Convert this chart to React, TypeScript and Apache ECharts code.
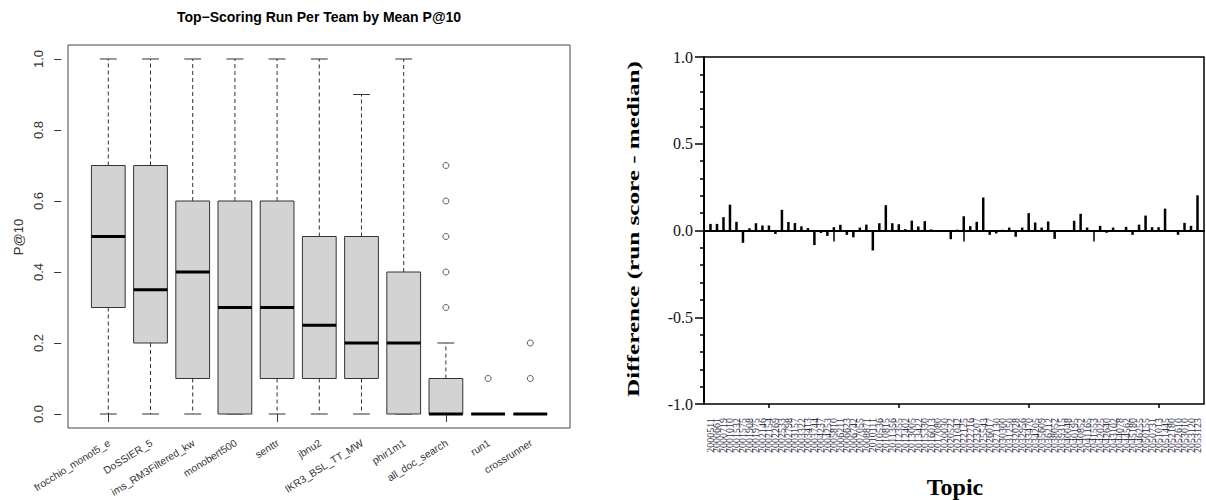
import React, { useEffect, useRef } from "react";
import * as echarts from "echarts";

// ---------- Left panel: box plot data ----------
const teams = [
  "frocchio_monot5_e",
  "DoSSIER_5",
  "ims_RM3Filtered_kw",
  "monobert500",
  "senttr",
  "jbnu2",
  "IKR3_BSL_TT_MW",
  "phir1m1",
  "all_doc_search",
  "run1",
  "crossrunner",
];
const boxMin = [0, 0, 0, 0, 0, 0, 0, 0, 0, 0, 0];
const boxQ1 = [0.3, 0.2, 0.1, 0, 0.1, 0.1, 0.1, 0, 0, 0, 0];
const boxMedian = [0.5, 0.35, 0.4, 0.3, 0.3, 0.25, 0.2, 0.2, 0, 0, 0];
const boxQ3 = [0.7, 0.7, 0.6, 0.6, 0.6, 0.5, 0.5, 0.4, 0.1, 0, 0];
const boxMax = [1, 1, 1, 1, 1, 1, 0.9, 1, 0.2, 0, 0];
const outlierTeams = ["all_doc_search", "all_doc_search", "all_doc_search", "all_doc_search", "all_doc_search", "run1", "crossrunner", "crossrunner"];
const outlierValues = [0.3, 0.4, 0.5, 0.6, 0.7, 0.1, 0.1, 0.2];

// ---------- Right panel: per-topic difference ----------
const topics = [
  "2000511", "2000661", "2000719", "2001010", "2001532", "2001575", "2001908", "2001975", "2002146", "2002154",
  "2002269", "2002533", "2002798", "2003157", "2003322", "2003413", "2003744", "2004237", "2004253", "2005810",
  "2006211", "2006623", "2006742", "2007055", "2008871", "2010111", "2010536", "2010815", "2011356", "2012355",
  "2012402", "2013005", "2013422", "2015330", "2016013", "2017080", "2020030", "2020522", "2021042", "2022125",
  "2022716", "2023207", "2025543", "2026017", "2027130", "2030300", "2031250", "2032028", "2032956", "2033470",
  "2034205", "2035609", "2036212", "2038052", "2039315", "2040048", "2040195", "2040852", "2041165", "2041553",
  "2042025", "2042640", "2043102", "2044078", "2044562", "2045180", "2046255", "2050155", "2050731", "2051013",
  "2051445", "2052180", "2052610", "2053010", "2053120", "2053123",
];
const diffs = [
  0.038, 0.038, 0.077, 0.149, 0.05, -0.071, 0.013, 0.042, 0.029, 0.029,
  -0.02, 0.119, 0.049, 0.043, 0.024, 0.014, -0.084, -0.014, -0.031, 0.019,
  0.033, -0.025, -0.039, 0.017, 0.034, -0.115, 0.042, 0.146, 0.042, 0.036,
  0.008, 0.057, 0.023, 0.054, 0.006, -0.008, 0, -0.05, 0.005, 0.082,
  0.025, 0.05, 0.19, -0.025, -0.017, 0.004, 0.017, -0.036, 0.017, 0.1,
  0.046, 0.017, 0.052, -0.048, 0, 0, 0.056, 0.096, 0.017, 0,
  0.027, -0.013, 0.017, 0, 0.021, -0.025, 0.034, 0.086, 0.019, 0.019,
  0.126, -0.005, -0.025, 0.044, 0.027, 0.203,
];
const leftTicks = [0, 0.2, 0.4, 0.6, 0.8, 1.0];
const rightTicks = [-1, -0.5, 0, 0.5, 1];

export default function App() {
  const ref = useRef<HTMLDivElement>(null);

  useEffect(() => {
    document.body.style.margin = "0";
    if (!ref.current) return;
    const chart = echarts.init(ref.current, null, { renderer: "svg" });

    const boxData = teams.map((_, i) => [i, boxMin[i], boxQ1[i], boxMedian[i], boxQ3[i], boxMax[i]]);
    const labelData = teams.map((_, i) => [i, 0]);
    const outlierData = outlierTeams.map((t, i) => [t, outlierValues[i]]);
    const rightCats = ["", ...topics, ""];
    const rightVals: (number | string)[] = ["-", ...diffs, "-"];

    const serifFont = "Liberation Serif";
    const sansFont = "Liberation Sans";
    const xLabelRotate = 32;

    chart.setOption({
      animation: false,
      backgroundColor: "#fff",
      grid: [
        { left: 68, top: 45, width: 502, height: 383, show: true, borderColor: "#444", borderWidth: 1, backgroundColor: "transparent", outerBoundsMode: "none" },
        { left: 87.2, top: 59, width: 464.2, height: 355, outerBoundsMode: "none" },
        { left: 704, top: 57, width: 500, height: 347, show: true, borderColor: "#000", borderWidth: 1.5, backgroundColor: "transparent", outerBoundsMode: "none" },
      ],
      xAxis: [
        { gridIndex: 0, type: "value", show: false },
        {
          gridIndex: 1,
          type: "category",
          data: teams,
          boundaryGap: true,
          offset: 14,
          axisLine: { show: false },
          axisTick: { show: true, alignWithLabel: true, length: 8, lineStyle: { color: "#333" } },
          axisLabel: { show: false },
          splitLine: { show: false },
        },
        {
          gridIndex: 2,
          type: "category",
          data: rightCats,
          boundaryGap: false,
          position: "bottom",
          axisLine: { show: true, lineStyle: { color: "#000", width: 2 } },
          axisTick: { show: true, interval: (i: number) => i % 20 === 0, length: 11, lineStyle: { color: "#000", width: 1.5 } },
          axisLabel: { interval: 0, rotate: 90, fontSize: 10, color: "#33334d", margin: 14, fontFamily: serifFont },
          splitLine: { show: false },
        },
        {
          gridIndex: 2,
          type: "category",
          data: rightCats,
          boundaryGap: false,
          position: "bottom",
          axisLine: { show: false },
          axisTick: { show: true, interval: (i: number) => i % 10 === 0 && i % 20 !== 0, length: 4, lineStyle: { color: "#000", width: 1.5 } },
          axisLabel: { show: false },
          splitLine: { show: false },
        },
      ],
      yAxis: [
        { gridIndex: 0, type: "value", show: false },
        {
          gridIndex: 1,
          type: "value",
          min: leftTicks[0],
          max: leftTicks[leftTicks.length - 1],
          interval: 0.2,
          offset: 26,
          axisLine: { show: false },
          axisTick: { show: true, length: 7, lineStyle: { color: "#333" } },
          axisLabel: { rotate: 90, fontSize: 13, color: "#333", margin: 16, fontFamily: sansFont, formatter: (v: number) => v.toFixed(1) },
          splitLine: { show: false },
        },
        {
          gridIndex: 2,
          type: "value",
          min: rightTicks[0],
          max: rightTicks[rightTicks.length - 1],
          interval: 0.5,
          axisLine: { show: true, lineStyle: { color: "#000", width: 2 } },
          axisTick: { show: true, length: 9, lineStyle: { color: "#000", width: 1.5 } },
          minorTick: { show: true, splitNumber: 5, length: 4, lineStyle: { color: "#000", width: 1.5 } },
          axisLabel: { fontSize: 16, color: "#111", margin: 11, fontFamily: serifFont, formatter: (v: number) => v.toFixed(1) },
          splitLine: { show: false },
          minorSplitLine: { show: false },
        },
      ],
      series: [
        {
          type: "custom",
          xAxisIndex: 1,
          yAxisIndex: 1,
          data: boxData,
          encode: { x: 0, y: [1, 2, 3, 4, 5] },
          renderItem: (params: any, api: any) => {
            const idx = api.value(0);
            const pMin = api.coord([idx, api.value(1)]);
            const pQ1 = api.coord([idx, api.value(2)]);
            const pMed = api.coord([idx, api.value(3)]);
            const pQ3 = api.coord([idx, api.value(4)]);
            const pMax = api.coord([idx, api.value(5)]);
            const band = api.size([1, 0])[0];
            const hw = band * 0.4;
            const cw = band * 0.2;
            const cx = pMed[0];
            const stroke = "#333";
            return {
              type: "group",
              children: [
                { type: "line", shape: { x1: cx, y1: pQ3[1], x2: cx, y2: pMax[1] }, style: { stroke, lineWidth: 1, lineDash: [4, 3] } },
                { type: "line", shape: { x1: cx, y1: pQ1[1], x2: cx, y2: pMin[1] }, style: { stroke, lineWidth: 1, lineDash: [4, 3] } },
                { type: "line", shape: { x1: cx - cw, y1: pMax[1], x2: cx + cw, y2: pMax[1] }, style: { stroke, lineWidth: 1 } },
                { type: "line", shape: { x1: cx - cw, y1: pMin[1], x2: cx + cw, y2: pMin[1] }, style: { stroke, lineWidth: 1 } },
                { type: "rect", shape: { x: cx - hw, y: pQ3[1], width: hw * 2, height: pQ1[1] - pQ3[1] }, style: { fill: "#d3d3d3", stroke, lineWidth: 1 } },
                { type: "line", shape: { x1: cx - hw, y1: pMed[1], x2: cx + hw, y2: pMed[1] }, style: { stroke: "#000", lineWidth: 3 } },
              ],
            };
          },
        },
        {
          // category labels of the box plot, placed on the axis's own scale
          type: "custom",
          xAxisIndex: 1,
          yAxisIndex: 1,
          data: labelData,
          clip: false,
          silent: true,
          encode: { x: 0, y: 1 },
          renderItem: (params: any, api: any) => {
            const idx = api.value(0);
            const p = api.coord([idx, 0]);
            return {
              type: "text",
              x: p[0] + 1,
              y: p[1] + 14 + 14,
              rotation: (xLabelRotate * Math.PI) / 180,
              style: {
                text: teams[idx],
                fontSize: 10.3,
                fontFamily: sansFont,
                fill: "#333",
                align: "right",
                verticalAlign: "middle",
              },
            };
          },
        },
        {
          type: "scatter",
          xAxisIndex: 1,
          yAxisIndex: 1,
          data: outlierData,
          symbol: "circle",
          symbolSize: 6,
          itemStyle: { color: "transparent", borderColor: "#333", borderWidth: 1 },
          z: 5,
        },
        {
          type: "bar",
          xAxisIndex: 2,
          yAxisIndex: 2,
          data: rightVals,
          barWidth: 2.5,
          itemStyle: { color: "#000" },
          markLine: {
            symbol: "none",
            silent: true,
            label: { show: false },
            lineStyle: { color: "#000", width: 2, type: "solid" },
            data: [{ yAxis: 0 }],
          },
        },
      ],
      graphic: [
        {
          type: "text",
          x: 319,
          y: 17,
          style: { text: "Top\u2212Scoring Run Per Team by Mean P@10", fontSize: 14, fontWeight: "bold", fontFamily: sansFont, fill: "#000", align: "center", verticalAlign: "middle" },
        },
        {
          type: "text",
          x: 18,
          y: 237,
          rotation: Math.PI / 2,
          style: { text: "P@10", fontSize: 13, fontFamily: sansFont, fill: "#333", align: "center", verticalAlign: "middle" },
        },
        {
          type: "text",
          x: 633,
          y: 229,
          rotation: Math.PI / 2,
          scaleX: 1.48,
          style: { text: "Difference (run score - median)", fontSize: 17, fontWeight: "bold", fontFamily: serifFont, fill: "#000", align: "center", verticalAlign: "middle" },
        },
        {
          type: "text",
          x: 955,
          y: 487,
          style: { text: "Topic", fontSize: 24, fontWeight: "bold", fontFamily: serifFont, fill: "#000", align: "center", verticalAlign: "middle" },
        },
      ],
    });

    return () => chart.dispose();
  }, []);

  return <div ref={ref} style={{ width: 1206, height: 500 }} />;
}
